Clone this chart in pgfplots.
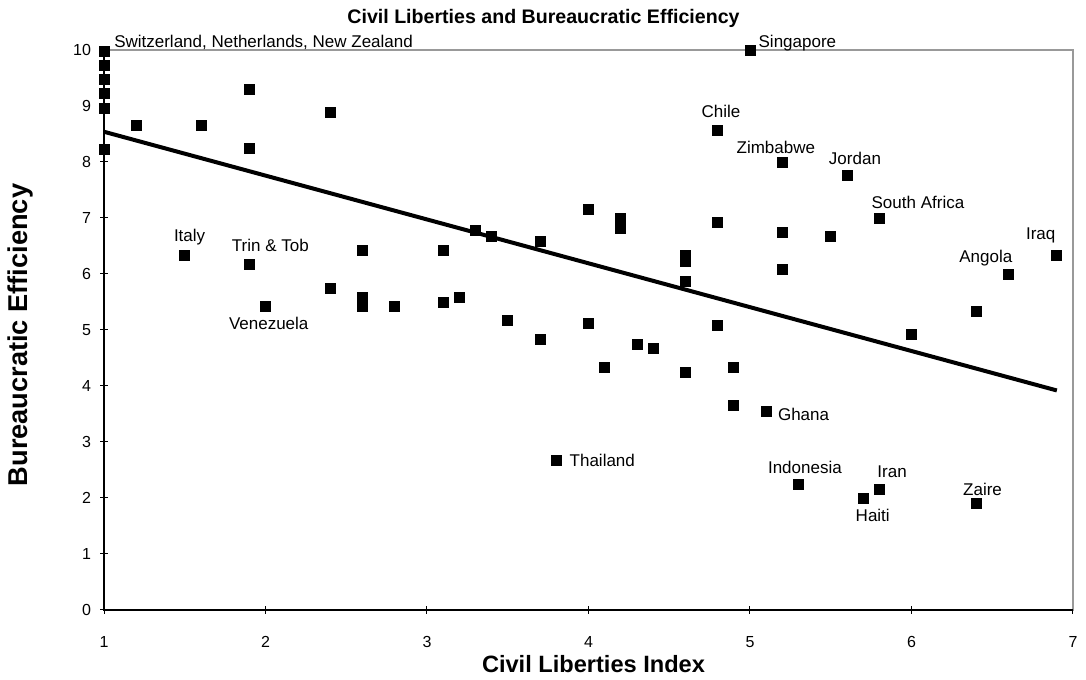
\documentclass[border=0pt]{standalone}
\usepackage{fontspec}
\setmainfont{Liberation Sans}
\usepackage{pgfplots}
\pgfplotsset{compat=1.18}
\begin{document}
\begin{tikzpicture}[font=\fontsize{8.5bp}{10bp}\selectfont]
\begin{axis}[
 at={(0,0)}, anchor=south west,
 scale only axis, width=484.5bp, height=280bp,
 xmin=1, xmax=7, ymin=0, ymax=10,
 xtick={1,2,3,4,5,6,7}, ytick={0,1,2,3,4,5,6,7,8,9,10},
 xtick pos=bottom, ytick pos=left,
 axis line style={draw=gray!80, line width=0.6bp},
 tick style={black, line width=0.5bp},
 major tick length=4bp, tick align=center,
 x tick label style={yshift=-7.5bp},
 y tick label style={xshift=-1bp},
 /pgf/number format/assume math mode=true,
 tick label style={font=\fontsize{8bp}{10bp}\selectfont},
 clip=false,
]
\draw[black, line width=0.8bp] (rel axis cs:0,1) -- (rel axis cs:0,0) -- (rel axis cs:1,0);
\addplot[black, line width=2bp, no marks] coordinates {(1,8.54) (6.9,3.92)};
\addplot[only marks, mark=square*, mark size=2.5bp, black] coordinates {
(1,9.97) (1,9.73) (1,9.47) (1,9.23) (1,8.96) (1,8.22)
(1.2,8.66) (1.6,8.66) (1.9,9.30) (1.9,8.24) (2.4,8.89)
(1.5,6.33) (1.9,6.17) (2.0,5.42) (2.4,5.74) (2.6,6.42) (2.6,5.58) (2.6,5.43)
(2.8,5.42) (3.1,6.42) (3.1,5.49) (3.2,5.58) (3.3,6.77) (3.4,6.67) (3.5,5.17)
(3.7,6.58) (3.7,4.83) (3.8,2.67) (4.0,7.16) (4.0,5.11) (4.1,4.33)
(4.2,7.0) (4.2,6.82) (4.3,4.74) (4.4,4.67)
(4.6,6.34) (4.6,6.23) (4.6,5.87) (4.6,4.24)
(4.8,8.57) (4.8,6.92) (4.8,5.08) (4.9,4.33) (4.9,3.66)
(5.0,10.0) (5.1,3.54) (5.2,8.0) (5.2,6.74) (5.2,6.08) (5.3,2.25)
(5.5,6.67) (5.6,7.76) (5.7,1.99) (5.8,6.99) (5.8,2.16)
(6.0,4.92) (6.4,5.33) (6.4,1.91) (6.6,6.0) (6.9,6.33)
};
\node[anchor=west] at (axis cs:1.02,10.14) {Switzerland, Netherlands, New Zealand};
\node[anchor=west] at (axis cs:5.01,10.13) {Singapore};
\node at (axis cs:4.82,8.90) {Chile};
\node at (axis cs:5.16,8.26) {Zimbabwe};
\node at (axis cs:5.65,8.07) {Jordan};
\node at (axis cs:6.04,7.28) {South Africa};
\node at (axis cs:6.80,6.68) {Iraq};
\node at (axis cs:6.46,6.28) {Angola};
\node at (axis cs:1.53,6.66) {Italy};
\node at (axis cs:2.03,6.51) {Trin \& Tob};
\node at (axis cs:2.02,5.11) {Venezuela};
\node[anchor=west] at (axis cs:3.84,2.67) {Thailand};
\node[anchor=west] at (axis cs:5.13,3.49) {Ghana};
\node at (axis cs:5.34,2.54) {Indonesia};
\node at (axis cs:5.88,2.47) {Iran};
\node at (axis cs:5.76,1.68) {Haiti};
\node at (axis cs:6.44,2.15) {Zaire};
\end{axis}
\node[font=\fontsize{9.8bp}{12bp}\selectfont\bfseries] at (219.75bp,296bp) {Civil Liberties and Bureaucratic Efficiency};
\node[font=\fontsize{11.8bp}{14bp}\selectfont\bfseries] at (244.75bp,-27.2bp) {Civil Liberties Index};
\node[font=\fontsize{13.6bp}{16bp}\selectfont\bfseries, rotate=90] at (-42bp,137.5bp) {Bureaucratic Efficiency};
\path[use as bounding box] (-52bp,-34.5bp) rectangle (491bp,305bp);
\end{tikzpicture}
\end{document}
